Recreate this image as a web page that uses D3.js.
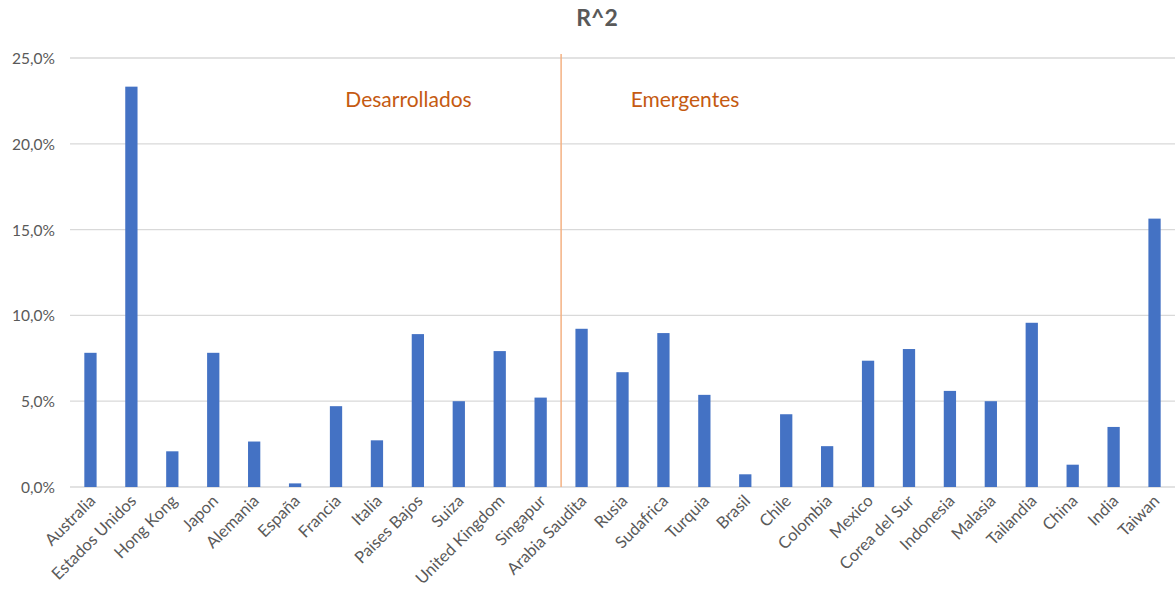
<!DOCTYPE html>
<html>
<head>
<meta charset="utf-8">
<script src="https://cdn.jsdelivr.net/npm/d3@7"></script>
<style>
  html, body { margin: 0; padding: 0; background: #fff; }
  svg { display: block; }
  text { font-family: Lato, "Open Sans", sans-serif; }
</style>
</head>
<body>
<svg id="chart" width="1175" height="594"></svg>
<script>
const categories = ["Australia","Estados Unidos","Hong Kong","Japon","Alemania","España","Francia","Italia","Paises Bajos","Suiza","United Kingdom","Singapur","Arabia Saudita","Rusia","Sudafrica","Turquia","Brasil","Chile","Colombia","Mexico","Corea del Sur","Indonesia","Malasia","Tailandia","China","India","Taiwan"];
const values = [7.82, 23.33, 2.08, 7.82, 2.65, 0.21, 4.71, 2.72, 8.91, 5.0, 7.92, 5.21, 9.22, 6.69, 8.97, 5.37, 0.74, 4.24, 2.38, 7.36, 8.04, 5.6, 5.0, 9.57, 1.3, 3.5, 15.64];
const yTicks = [0, 5, 10, 15, 20, 25];
const groupLabels = ["Desarrollados", "Emergentes"];
const title = "R^2";

const svg = d3.select("#chart");
const mLeft = 70, mRight = 1175, mTop = 58, mBottom = 487;

const x = d3.scaleBand().domain(categories).range([mLeft, mRight]).paddingInner(0.7).paddingOuter(0.35);
const y = d3.scaleLinear().domain([0, 25]).range([mBottom, mTop]);
const fmt = v => d3.format(".1f")(v).replace(".", ",") + "%";

// gridlines
svg.append("g").selectAll("line").data(yTicks).join("line")
  .attr("x1", mLeft).attr("x2", mRight)
  .attr("y1", d => y(d)).attr("y2", d => y(d))
  .attr("stroke", "#D9D9D9").attr("stroke-width", 1.3);

// y axis labels
const yAxis = d3.axisLeft(y).tickValues(yTicks).tickFormat(fmt).tickSize(0).tickPadding(0);
const ya = svg.append("g").attr("transform", `translate(${mLeft - 15},0)`).call(yAxis);
ya.select(".domain").remove();
ya.selectAll("text").attr("font-family", "Lato, sans-serif").attr("font-size", 15.5).attr("fill", "#595959").attr("dy", "0.35em");

// separator line
const step = x.step();
const sepX = x(categories[12]) - x.paddingOuter() * step;
svg.append("line").attr("x1", sepX).attr("x2", sepX).attr("y1", 54).attr("y2", mBottom)
  .attr("stroke", "#F4B183").attr("stroke-width", 1.5);

// bars
svg.append("g").selectAll("rect").data(values).join("rect")
  .attr("x", (d, i) => x(categories[i]))
  .attr("width", x.bandwidth())
  .attr("y", d => y(d))
  .attr("height", d => y(0) - y(d))
  .attr("fill", "#4472C4");

// x axis
const xAxis = d3.axisBottom(x).tickSize(0).tickPadding(0);
const xa = svg.append("g").attr("transform", `translate(0,${mBottom})`).call(xAxis);
xa.select(".domain").remove();
xa.selectAll("text")
  .attr("font-family", "Lato, sans-serif").attr("font-size", 16.5).attr("fill", "#595959")
  .attr("text-anchor", "end").attr("dy", null).attr("y", 0)
  .attr("transform", "translate(6,15) rotate(-45)");

// group labels
svg.append("text").attr("x", 408.5).attr("y", 107).attr("text-anchor", "middle")
  .attr("font-size", 21).attr("fill", "#C55A11").text(groupLabels[0]);
svg.append("text").attr("x", 685).attr("y", 107).attr("text-anchor", "middle")
  .attr("font-size", 21).attr("fill", "#C55A11").text(groupLabels[1]);

// title
svg.append("text").attr("x", 597).attr("y", 26).attr("text-anchor", "middle")
  .attr("font-size", 23).attr("font-weight", "bold").attr("fill", "#595959").text(title);
</script>
</body>
</html>
